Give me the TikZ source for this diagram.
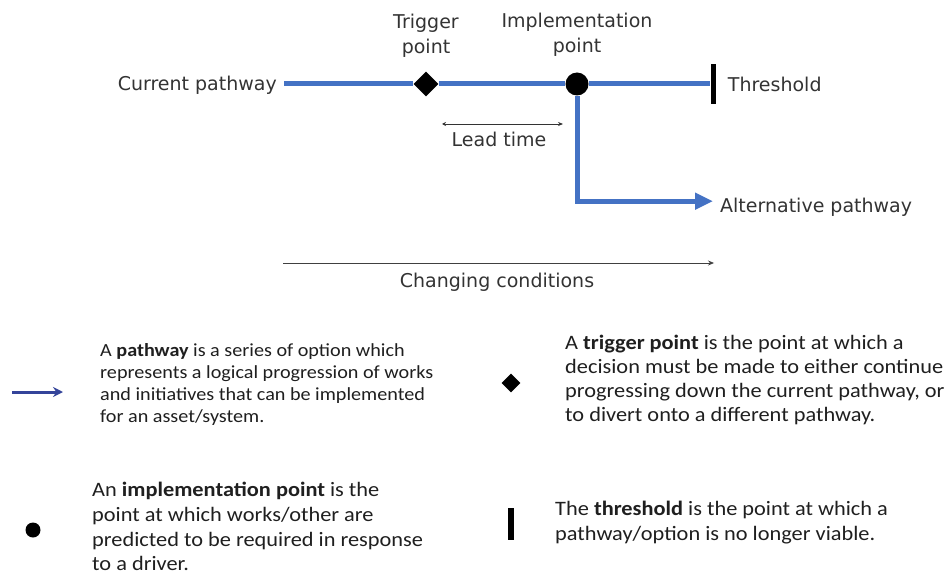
\documentclass[tikz,border=0pt]{standalone}
\usepackage{fontspec}
\setmainfont{Carlito}[FakeStretch=1.09]
\newfontfamily\verdfont{DejaVu Sans}
\usetikzlibrary{arrows.meta,shapes.geometric,positioning}
\definecolor{pathblue}{HTML}{4472C4}
\definecolor{legblue}{HTML}{34449A}

\begin{document}
\begin{tikzpicture}[x=1pt, y=-1pt, >=Stealth, path line/.style={draw=pathblue, line width=5pt}, tag/.style={font=\verdfont\fontsize{19}{25}\selectfont, text=black!80, inner sep=4pt}, legend text/.style={align=left, inner sep=0pt, anchor=north west, text=black!88}, mark node/.style={fill=black, inner sep=0pt}]
	\useasboundingbox (0,0) rectangle (947,580);

	% pathway diagram
	\node[mark node, diamond, minimum size=25pt, label={[tag, align=center, label distance=10pt]above:Trigger\\point}] (trig) at (426,84) {};
	\node[mark node, circle, minimum size=23pt, label={[tag, align=center, label distance=12pt]above:Implementation\\point}] (impl) at (577,84) {};
	\node[mark node, minimum width=5pt, minimum height=40pt] (thr) at (713,84) {};
	\node[tag, anchor=mid east, inner xsep=7pt, yshift=-4pt] (cur) at (284,84) {Current pathway};
	\node[tag, right=8pt of thr, anchor=mid west, yshift=-5pt] (thrtag) {Threshold};
	\node[tag, anchor=mid west, inner xsep=7pt, yshift=-6pt] (alt) at (713,204) {Alternative pathway};

	\draw[path line] (cur.east |- trig.west) -- (trig.west);
	\draw[path line] (trig.east) -- (impl.west);
	\draw[path line] (impl.east) -- (thr.west);
	\draw[path line, -{Triangle[length=18pt, width=16pt]}] (impl.south) |- ([yshift=6pt]alt.west);

	% lead time and changing conditions
	\coordinate (lt a) at (442,124);
	\coordinate (lt b) at (563,124);
	\draw[{Stealth[length=4pt, width=4pt]}-{Stealth[length=5pt, width=4pt]}, line width=0.8pt, black!80] (lt a) -- (lt b);
	\node[tag, anchor=base] (lead) at (499,147) {Lead time};
	\coordinate (cc a) at (283,263);
	\coordinate (cc b) at (714,263);
	\draw[-{Stealth[length=6pt, width=5pt]}, line width=0.8pt, black!75] (cc a) -- (cc b);
	\node[tag, anchor=base] (cond) at (497,287) {Changing conditions};

	% key
	\coordinate (key a) at (12,392);
	\coordinate (key b) at (63,392);
	\draw[legblue, line width=3pt, -{Stealth[length=10pt, width=10pt]}] (key a) -- (key b);
	\node[legend text, font=\fontsize{18.5}{22}\selectfont] (ptext) at (100,343) {A \textbf{pathway} is a series of option which\\represents a logical progression of works\\and initiatives that can be implemented\\for an asset/system.};
	\node[mark node, diamond, minimum size=19pt] (keydia) at (511,383) {};
	\node[legend text, font=\fontsize{20.5}{24}\selectfont] (ttext) at (565,335) {A \textbf{trigger point} is the point at which a\\decision must be made to either continue\\progressing down the current pathway, or\\to divert onto a different pathway.};
	\node[mark node, circle, minimum size=15pt] (keydot) at (33,530) {};
	\node[legend text, font=\fontsize{20.5}{24.7}\selectfont] (itext) at (92,482) {An \textbf{implementation point} is the\\point at which works/other are\\predicted to be required in response\\to a driver.};
	\node[mark node, minimum width=6pt, minimum height=32pt] (keybar) at (511,524) {};
	\node[legend text, font=\fontsize{20.5}{25}\selectfont] (htext) at (555,501) {The \textbf{threshold} is the point at which a\\pathway/option is no longer viable.};
\end{tikzpicture}
\end{document}
